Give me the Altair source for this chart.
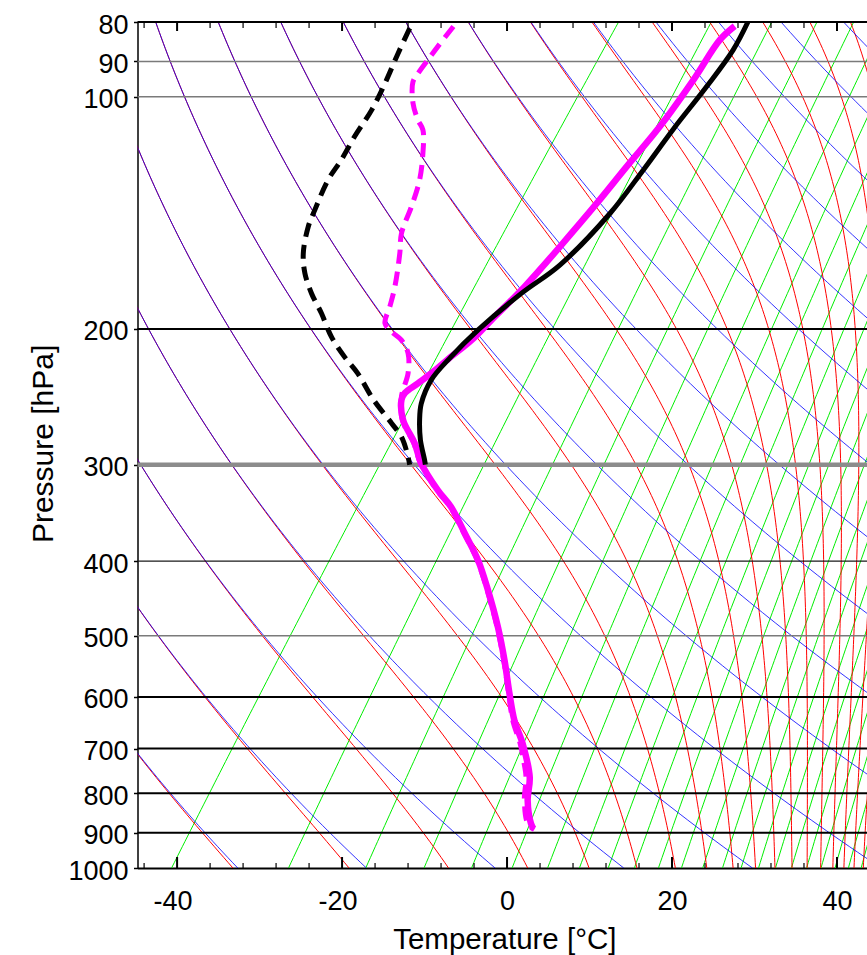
import numpy as np
import pandas as pd
import altair as alt

# ---------------- diagram settings ----------------
SKEW = 30.0            # deg C of x-shift per e-fold of pressure (skew-T)
X_MIN, X_MAX = -44.8, 43.64
P_TOP, P_BOT = 80, 1000

# ---------------- background line families ----------------
DRY_THETA = [240.5, 256.1, 271.7, 287.3, 302.9, 318.5, 334.1, 349.7, 365.3,
             380.9, 396.5, 412.1, 427.7, 443.3, 458.9, 474.5, 490.1]           # K
MOIST_THETA_E = DRY_THETA + [505.7, 521.3, 536.9, 552.5, 568.1, 583.7, 599.3]  # K
MIX_RATIO = [0.11, 0.44, 1.0, 1.78, 2.78, 4.0, 5.44, 7.11, 9.0, 11.1, 13.4, 16.0,
             18.8, 21.8, 25.0, 28.4, 32.1, 36.0, 40.1, 44.4, 49.0, 53.8, 58.8]  # g/kg

# ---------------- sounding data (x = skewed temperature axis, deg C) ----------------
T_MODEL_P = [80, 87, 97, 110, 124.5, 141.6, 165.3, 180, 200.6, 217.4, 233, 250,
             262.5, 278.6, 295.6, 300]
T_MODEL_X = [29.2, 27.4, 24.2, 20.2, 16.5, 12.5, 6.4, 1.7, -3.5, -6.8, -9.2, -10.4,
             -10.6, -10.5, -10.0, -9.9]

TD_MODEL_P = [81.5, 87.8, 96.1, 104, 112.7, 120.8, 128.2, 140.2, 147.4, 159.6, 169.5,
              179.9, 190.9, 204.7, 217.4, 228.4, 247, 265, 276, 290, 300]
TD_MODEL_X = [-11.8, -13.2, -14.8, -16.4, -18.5, -20.1, -21.7, -23.3, -24.1, -24.7, -24.5,
              -23.7, -22.5, -21.3, -19.7, -18.1, -16.2, -14.0, -12.8, -12.1, -11.8]

T_OBS_P = [81, 84.4, 95.1, 109.4, 123.2, 137.4, 156.5, 176.4, 194.8, 206.8, 217.4, 228.4,
           235.3, 242.3, 247.3, 262.5, 281.4, 298.8, 323.7, 340.2, 368.6, 399.2, 436.7,
           487.4, 538.4, 594.6, 644, 690.2, 762.2, 816.8, 875.5, 889]
T_OBS_X = [27.6, 25.8, 22.6, 18.5, 14.5, 10.9, 6.4, 2.1, -1.9, -4.3, -6.8, -9.2,
           -10.8, -12.4, -12.8, -12.6, -11.2, -10.4, -8.4, -6.8, -5.1, -3.5, -2.3,
           -1.1, -0.3, 0.3, 0.9, 1.9, 2.75, 2.5, 2.9, 3.2]

TD_OBS_P = [81.1, 86.1, 89.6, 93.3, 95.6, 101.9, 107.2, 110.4, 118.4, 128.2, 138.9, 150.4,
            159.6, 176.4, 187, 196.7, 201.7, 206.8, 215.1, 228.4, 244.8, 262.5, 281.4,
            298.8, 323.7, 340.2, 368.6, 399.2, 436.7, 487.4, 538.4, 594.6, 644, 690.2,
            725, 762.2, 816.8, 875.5, 892]
TD_OBS_X = [-6.5, -8.4, -9.6, -10.8, -11.4, -11.4, -10.8, -10.2, -10.2, -10.6, -11.6, -12.8,
            -13.0, -13.6, -14.2, -14.8, -14.0, -12.8, -12.0, -12.0, -12.8, -12.7, -11.3,
            -10.5, -8.5, -6.9, -5.2, -3.6, -2.4, -1.2, -0.4, 0.2, 0.7, 1.6,
            2.0, 2.3, 2.1, 2.5, 3.3]

# ---------------- axes / grid ----------------
P_LABELS = [80, 90, 100, 200, 300, 400, 500, 600, 700, 800, 900, 1000]
T_LABELS = [-40, -20, 0, 20, 40]
T_MINOR = [t for t in range(-44, 41, 4) if t % 20 != 0]
GRID_P = [80, 90, 100, 200, 300, 400, 500, 600, 700, 800, 900]
GRID_COLOR = ['#000000', '#7a7a7a', '#7a7a7a', '#000000', '#8c8c8c', '#1a1a1a', '#7a7a7a',
              '#000000', '#000000', '#000000', '#000000']
GRID_WIDTH = [2, 1.5, 1.5, 2, 4.5, 1.3, 1.5, 2, 2, 2, 2]

FONT = "Liberation Sans"

# ---------------- thermodynamics for the background lines ----------------
RD, CP, LV, EPS, KAPPA = 287.04, 1005.7, 2.501e6, 0.622, 0.2857
P_LINE = np.geomspace(P_BOT, P_TOP, 160)


def skew(tc, p):
    return tc + SKEW * np.log(1000.0 / p)


def es(tk):
    return 6.112 * np.exp(17.67 * (tk - 273.15) / (tk - 29.65))


def rs(tk, p):
    e = es(tk)
    return EPS * e / np.maximum(p - e, 1e-3)


def theta_e(tk, p):
    return tk * (1000.0 / p) ** KAPPA * np.exp(LV * rs(tk, p) / (CP * tk))


def t_on_moist(the, p):
    lo = np.full_like(p, 100.0)
    hi = np.full_like(p, 345.0)
    for _ in range(70):
        mid = 0.5 * (lo + hi)
        above = theta_e(mid, p) > the
        hi = np.where(above, mid, hi)
        lo = np.where(above, lo, mid)
    return 0.5 * (lo + hi)


rows = []
for k, th in enumerate(DRY_THETA):
    tc = th * (P_LINE / 1000.0) ** KAPPA - 273.15
    for i, (p, x) in enumerate(zip(P_LINE, skew(tc, P_LINE))):
        rows.append(("dry", f"d{k}", i, p, x))

for k, the in enumerate(MOIST_THETA_E):
    tc = t_on_moist(the, P_LINE) - 273.15
    for i, (p, x) in enumerate(zip(P_LINE, skew(tc, P_LINE))):
        rows.append(("moist", f"m{k}", i, p, x))

for k, w in enumerate(MIX_RATIO):
    wk = w / 1000.0
    e = wk * P_LINE / (EPS + wk)
    le = np.log(e / 6.112)
    td = 243.5 * le / (17.67 - le)
    for i, (p, x) in enumerate(zip(P_LINE, skew(td, P_LINE))):
        rows.append(("mix", f"w{k}", i, p, x))

bg = pd.DataFrame(rows, columns=["kind", "line", "i", "p", "x"])

prof_rows = []
for name, ps, xs in [("t_model", T_MODEL_P, T_MODEL_X), ("td_model", TD_MODEL_P, TD_MODEL_X),
                     ("t_obs", T_OBS_P, T_OBS_X), ("td_obs", TD_OBS_P, TD_OBS_X)]:
    for i, (p, x) in enumerate(zip(ps, xs)):
        prof_rows.append((name, i, p, x))
prof = pd.DataFrame(prof_rows, columns=["name", "i", "p", "x"])

grid = pd.DataFrame({"p": GRID_P, "c": GRID_COLOR, "w": GRID_WIDTH})
major = pd.DataFrame({"x": T_LABELS})
minor = pd.DataFrame({"x": T_MINOR})

# ---------------- chart ----------------
W, H = 729.5, 846
x_scale = alt.Scale(domain=[X_MIN, X_MAX], nice=False, zero=False)
y_scale = alt.Scale(type="log", domain=[P_TOP, P_BOT], reverse=True, nice=False)

x_axis = alt.Axis(
    values=T_LABELS, title="Temperature [°C]", ticks=False, grid=False,
    domain=True, domainColor="black", domainWidth=2,
    labelFont=FONT, labelFontSize=27, labelColor="black", labelPadding=20,
    labelExpr="'' + datum.value", labelOverlap=False, labelFlush=False,
    labelOffset={"condition": {"test": "datum.value < 0", "value": -4.5}, "value": 0},
    titleFont=FONT, titleFontSize=29.5, titleFontWeight="normal", titleColor="black",
    titleX=366.8, titleY=80.3, titleBaseline="alphabetic", titleAlign="center",
)
y_axis = alt.Axis(
    values=P_LABELS, title="Pressure [hPa]", grid=False,
    ticks=True, tickSize=4, tickColor="black", tickWidth=1.5,
    domain=True, domainColor="black", domainWidth=1.5,
    labelFont=FONT, labelFontSize=27, labelColor="black", labelPadding=5.5,
    labelExpr="'' + datum.value", labelOverlap=False, labelFlush=False, labelOffset=3,
    titleFont=FONT, titleFontSize=30, titleFontWeight="normal", titleColor="black",
    titleX=-85.5, titleY=421.4, titleBaseline="alphabetic", titleAlign="center", titleAngle=270,
)

X = alt.X("x:Q", scale=x_scale, axis=x_axis)
Y = alt.Y("p:Q", scale=y_scale, axis=y_axis)

mix_layer = alt.Chart(bg[bg.kind == "mix"]).mark_line(clip=True, color="#00ee00", strokeWidth=1).encode(
    x=X, y=Y, detail="line:N", order="i:Q")
moist_layer = alt.Chart(bg[bg.kind == "moist"]).mark_line(clip=True, color="#ff0000", strokeWidth=1).encode(
    x=X, y=Y, detail="line:N", order="i:Q")
dry_layer = alt.Chart(bg[bg.kind == "dry"]).mark_line(clip=True, color="#0000ff", strokeWidth=1, opacity=0.8).encode(
    x=X, y=Y, detail="line:N", order="i:Q")

grid_layer = alt.Chart(grid).mark_rule().encode(
    y=Y, color=alt.Color("c:N", scale=None), strokeWidth=alt.StrokeWidth("w:Q", scale=None))


def tick_layer(df, y0, y1, width):
    return alt.Chart(df).mark_rule(color="black", strokeWidth=width).encode(
        x=X, y=alt.value(y0), y2=alt.value(y1))


def prof_line(name, color, width, dash=None):
    kw = dict(clip=True, color=color, strokeWidth=width, strokeCap="butt",
              strokeJoin="round", interpolate="catmull-rom")
    if dash:
        kw["strokeDash"] = dash
    return alt.Chart(prof[prof.name == name]).mark_line(**kw).encode(
        x=X, y=Y, order="i:Q")


layers = [
    mix_layer, moist_layer, dry_layer, grid_layer,
    tick_layer(major, H, H - 11, 2), tick_layer(minor, H, H - 5, 1.2),
    tick_layer(major, 0, 9, 2), tick_layer(minor, 0, 6, 1.2),
    prof_line("td_obs", "#ff00ff", 5, [14, 8]),
    prof_line("t_obs", "#ff00ff", 6.5),
    prof_line("td_model", "black", 5, [14, 8]),
    prof_line("t_model", "black", 5),
]

chart = alt.layer(*layers).properties(
    width=W, height=H,
    autosize=alt.AutoSizeParams(type="none"),
    padding={"left": 137.5, "top": 22, "right": 0, "bottom": 87},
    background="white",
).configure_view(stroke=None)

chart.save("out.html", embed_options={"renderer": "svg", "actions": False})
